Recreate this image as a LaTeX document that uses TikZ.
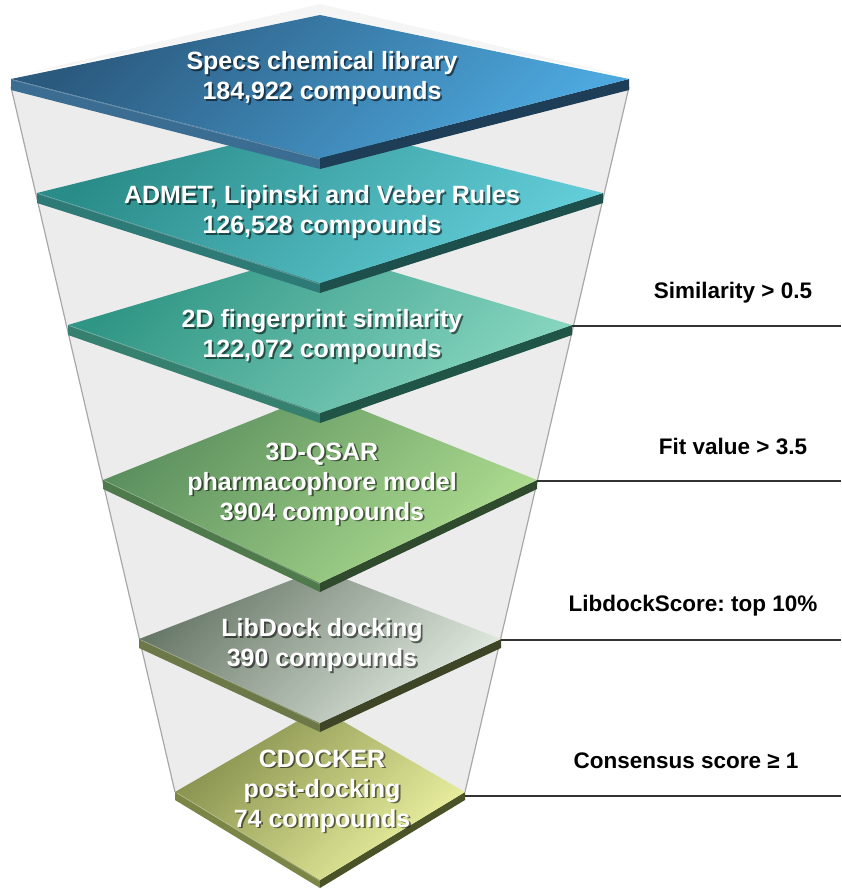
\documentclass[tikz,border=0pt]{standalone}
\usepackage{fontspec}
\setmainfont{Liberation Sans}
\usetikzlibrary{calc}
% plate colours: a = dark surface, b = light surface, l = left face, r = right face
\definecolor{p1a}{HTML}{2B5A7F}\definecolor{p1b}{HTML}{4DA8DE}\definecolor{p1l}{HTML}{3B6D92}\definecolor{p1r}{HTML}{1E3D57}
\definecolor{p2a}{HTML}{2A8C88}\definecolor{p2b}{HTML}{62CCD8}\definecolor{p2l}{HTML}{2E7A77}\definecolor{p2r}{HTML}{1D4F4D}
\definecolor{p3a}{HTML}{2F9585}\definecolor{p3b}{HTML}{86D5BE}\definecolor{p3l}{HTML}{35806F}\definecolor{p3r}{HTML}{1F5447}
\definecolor{p4a}{HTML}{5B8F5E}\definecolor{p4b}{HTML}{AEDD90}\definecolor{p4l}{HTML}{4F7A4B}\definecolor{p4r}{HTML}{2F4A2C}
\definecolor{p5a}{HTML}{687868}\definecolor{p5b}{HTML}{E2EAE0}\definecolor{p5l}{HTML}{6D7848}\definecolor{p5r}{HTML}{3D4526}
\definecolor{p6a}{HTML}{858F4C}\definecolor{p6b}{HTML}{EEF3A2}\definecolor{p6l}{HTML}{7B8545}\definecolor{p6r}{HTML}{4A5228}
\definecolor{funnelfill}{HTML}{ECECEC}
\definecolor{funnelline}{HTML}{A8A8A8}
\definecolor{rimfill}{HTML}{F5F5F5}
% #1 name, #2 centre y, #3 half width, #4 upper half, #5 lower half
\newcommand\platecoords[5]{%
  \coordinate (#1L) at (320-#3,#2);
  \coordinate (#1R) at (320+#3,#2);
  \coordinate (#1T) at (320,#2-#4);
  \coordinate (#1B) at (320,#2+#5);
}
% #1 name, #2 thickness
\newcommand\plateshape[2]{%
  \fill[#1l] (#1L) -- (#1B) -- ($(#1B)+(0,#2)$) -- ($(#1L)+(0,#2)$) -- cycle;
  \fill[#1r] (#1B) -- (#1R) -- ($(#1R)+(0,#2)$) -- ($(#1B)+(0,#2)$) -- cycle;
  \shade[top color=#1a, bottom color=#1b, shading angle=45] (#1L) -- (#1T) -- (#1R) -- (#1B) -- cycle;
  \draw[white, opacity=0.25, line width=0.8pt] ($(#1L)+(2,1)$) -- ($(#1B)+(0,1)$);
}
\newcommand\platetext[3]{%
  \node[ptxtsh] (#1sh) at ($(#2)+(1.8,1.8)$) {#3};
  \node[ptxt] (#1) at (#2) {#3};
}
\begin{document}
\frenchspacing
\begin{tikzpicture}[x=1pt,y=-1pt,
  ptxt/.style={text=white, align=center, inner sep=0pt,
    font=\fontsize{25}{30}\selectfont\bfseries},
  ptxtsh/.style={ptxt, text=black, opacity=0.55},
  lab/.style={text=black, inner sep=0pt, font=\fontsize{22.5}{27}\selectfont\bfseries\frenchspacing},
  rline/.style={draw=black!80, line width=1.1pt},
  fline/.style={draw=funnelline, line width=1.2pt}]
\useasboundingbox (0,0) rectangle (841,889);
\fill[white] (0,0) rectangle (841,889);
\coordinate (E) at (841,0);

\platecoords{p1}{79}{309}{64}{79}
\platecoords{p2}{193}{283}{70}{90}
\platecoords{p3}{325}{252}{75}{88}
\platecoords{p4}{480}{217}{87}{103}
\platecoords{p5}{639}{181}{70}{84}
\platecoords{p6}{792}{145}{84}{88}

% faint rim of the funnel mouth
\fill[rimfill] ($(p1L)+(0,-2)$) -- (320,4) -- ($(p1R)+(0,-2)$) -- (p1T) -- cycle;
% funnel body
\fill[funnelfill] ($(p1L)+(0,8)$) -- (p6L) -- (p6R) -- ($(p1R)+(0,8)$) -- cycle;
\draw[fline] ($(p1L)+(0,8)$) -- (p6L);
\draw[fline] ($(p1R)+(0,8)$) -- (p6R);

% criterion lines
\draw[rline] ($(p3R)+(0,1)$) -- ($(p3R -| E)+(0,1)$);
\draw[rline] ($(p4R)+(0,1)$) -- ($(p4R -| E)+(0,1)$);
\draw[rline] ($(p5R)+(0,1)$) -- ($(p5R -| E)+(0,1)$);
\draw[rline] ($(p6R)+(0,4)$) -- ($(p6R -| E)+(0,4)$);

% plates, bottom first
\plateshape{p6}{8}
\plateshape{p5}{9}
\plateshape{p4}{9}
\plateshape{p3}{10}
\plateshape{p2}{10}
\plateshape{p1}{11}

% plate texts
\coordinate (c1) at (322,78);
\coordinate (c2) at (322,212);
\coordinate (c3) at (322,336);
\coordinate (c4) at (322,484);
\coordinate (c5) at (322,645);
\coordinate (c6) at (322,791);
\platetext{t1}{c1}{Specs chemical library\\184,922 compounds}
\platetext{t2}{c2}{ADMET, Lipinski and Veber Rules\\126,528 compounds}
\platetext{t3}{c3}{2D fingerprint similarity\\122,072 compounds}
\platetext{t4}{c4}{3D-QSAR\\pharmacophore model\\3904 compounds}
\platetext{t5}{c5}{LibDock docking\\390 compounds}
\platetext{t6}{c6}{CDOCKER\\post-docking\\74 compounds}

% criteria
\node[lab] (l3) at (733,293) {Similarity > 0.5};
\node[lab] (l4) at (733,446) {Fit value > 3.5};
\node[lab] (l5) at (693,606) {LibdockScore: top 10\%};
\node[lab] (l6) at (686,761) {Consensus score ≥ 1};
\end{tikzpicture}
\end{document}
